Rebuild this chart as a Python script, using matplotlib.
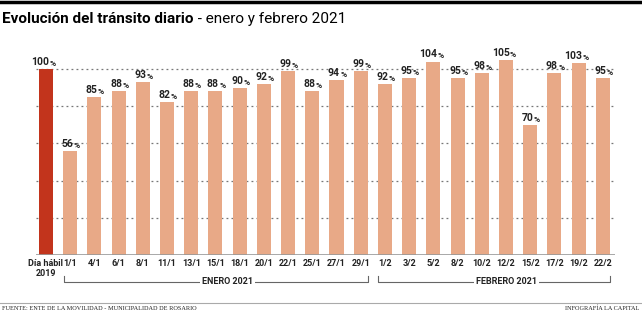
import matplotlib
matplotlib.use("Agg")
from matplotlib import pyplot as plt
from matplotlib.lines import Line2D

# Datos
labels = ['Día hábil\n2019', '1/1', '4/1', '6/1', '8/1', '11/1', '13/1', '15/1', '18/1',
          '20/1', '22/1', '25/1', '27/1', '29/1', '1/2', '3/2', '5/2', '8/2', '10/2',
          '12/2', '15/2', '17/2', '19/2', '22/2']
values = [100, 56, 85, 88, 93, 82, 88, 88, 90, 92, 99, 88, 94, 99,
          92, 95, 104, 95, 98, 105, 70, 98, 103, 95]
months = ['ENERO 2021', 'FEBRERO 2021']
month_ranges = [(1, 13), (14, 23)]
gridlines = [20, 40, 60, 80, 100]

red = '#c2341c'
salmon = '#e8a987'
dark = '#222222'

plt.rcParams['font.family'] = ['Roboto', 'DejaVu Sans']

W, H = 642, 312
fig = plt.figure(figsize=(W / 100, H / 100), dpi=100)
ax = fig.add_axes([36 / W, (H - 255) / H, 579 / W, 215 / H])

x = list(range(len(values)))
colors = [red] + [salmon] * (len(values) - 1)
ax.bar(x, values, width=0.58, color=colors, zorder=2)

for g in gridlines:
    ax.axhline(g, color='#777777', lw=0.9, ls=(0, (1.5, 2.5)), zorder=1)
ax.axhline(0, color='#999999', lw=1.2, zorder=3)

ax.set_xlim(-0.41, 23.5)
ax.set_ylim(0, 115.6)
ax.set_yticks([])
ax.set_xticks(x)
ax.set_xticklabels(labels, fontsize=6.5, fontweight='bold', color=dark, linespacing=1.1)
ax.tick_params(axis='x', length=0, pad=3)
for s in ax.spines.values():
    s.set_visible(False)

# Etiquetas de valor con el % más chico
for xi, v in zip(x, values):
    ax.annotate(str(v), (xi, v), xytext=(2.5, 1.5), textcoords='offset points',
                ha='right', va='bottom', fontsize=7.5, fontweight='bold', color=dark)
    ax.annotate('%', (xi, v), xytext=(2.7, 1.5), textcoords='offset points',
                ha='left', va='bottom', fontsize=6, fontweight='bold', color=dark)

# Llaves de meses
for name, (a, b) in zip(months, month_ranges):
    x0, x1 = a - 0.27, b + 0.3
    yb, yt = -14.5, -11.3
    ax.plot([x0, x0, x1, x1], [yt, yb, yb, yt], color='#666666', lw=0.8, clip_on=False)
    ax.text((x0 + x1) / 2 + 0.5, yb, name, ha='center', va='center', fontsize=6.5,
            fontweight='bold', color=dark,
            bbox=dict(facecolor='white', edgecolor='none', pad=1.5))

# Líneas y textos del marco
fig.add_artist(Line2D([0, 1], [1 - 1.5 / H, 1 - 1.5 / H], color='black', lw=2.5))
fig.add_artist(Line2D([0, 1], [1 - 303 / H, 1 - 303 / H], color='#aaaaaa', lw=0.8))

t1 = fig.text(2 / W, 1 - 19 / H, 'Evolución del tránsito diario', fontsize=11,
              fontweight='bold', color='black', va='center', ha='left')
fig.canvas.draw()
bb = t1.get_window_extent()
fig.text(bb.x1 / W, 1 - 19 / H, ' - enero y febrero 2021', fontsize=11,
         color='black', va='center', ha='left')

fig.text(2 / W, 1 - 308.5 / H, 'FUENTE: ENTE DE LA MOVILIDAD - MUNICIPALIDAD DE ROSARIO',
         fontsize=4.5, color=dark, va='center', ha='left', family='Liberation Serif')
fig.text(1 - 3 / W, 1 - 308.5 / H, 'INFOGRAFÍA LA CAPITAL',
         fontsize=4.5, color=dark, va='center', ha='right', family='Liberation Serif')

fig.savefig('out.png', dpi=100)
